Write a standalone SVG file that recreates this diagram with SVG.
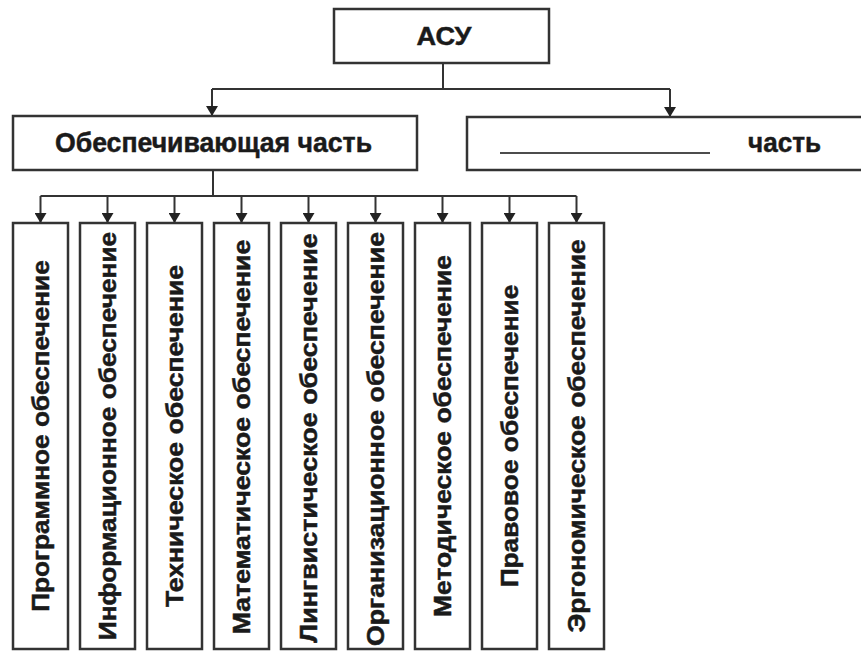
<svg xmlns="http://www.w3.org/2000/svg" width="861" height="651" viewBox="0 0 861 651">
<style>
.box{fill:#fff;stroke:#333;stroke-width:2.5}
.ln{fill:none;stroke:#333;stroke-width:2}
.t{font-family:"Liberation Sans",Arial,sans-serif;font-weight:bold;fill:#1a1a1a;stroke:#1a1a1a;stroke-width:0.5}
.v{font-size:23px;text-anchor:middle}
</style>
<defs>
<marker id="arr" markerUnits="userSpaceOnUse" markerWidth="10" markerHeight="12" viewBox="0 0 12 10" refX="12" refY="5" orient="auto" preserveAspectRatio="none">
<path d="M0,0 L12,5 L0,10 z" fill="#222"/>
</marker>
</defs>
<rect width="861" height="651" fill="#fff"/>
<g id="connectors">
<path class="ln" d="M443,63 V89"/>
<path class="ln" d="M212,89 H670"/>
<path class="ln" d="M212,89 V116" marker-end="url(#arr)"/>
<path class="ln" d="M670,89 V117" marker-end="url(#arr)"/>
<path class="ln" d="M213,170 V196"/>
<path class="ln" d="M40.5,196 H576.5"/>
<path class="ln" d="M40.5,196 V223" marker-end="url(#arr)"/>
<path class="ln" d="M107.5,196 V223" marker-end="url(#arr)"/>
<path class="ln" d="M174.5,196 V223" marker-end="url(#arr)"/>
<path class="ln" d="M241.5,196 V223" marker-end="url(#arr)"/>
<path class="ln" d="M308.5,196 V223" marker-end="url(#arr)"/>
<path class="ln" d="M375.5,196 V223" marker-end="url(#arr)"/>
<path class="ln" d="M442.5,196 V223" marker-end="url(#arr)"/>
<path class="ln" d="M509.5,196 V223" marker-end="url(#arr)"/>
<path class="ln" d="M576.5,196 V223" marker-end="url(#arr)"/>
</g>
<g id="asu">
<rect class="box" x="334" y="9" width="215" height="54"/>
<text class="t" x="444" y="45" font-size="26" text-anchor="middle" textLength="55" lengthAdjust="spacingAndGlyphs">АСУ</text>
</g>
<g id="obesp">
<rect class="box" x="13" y="116" width="404" height="54"/>
<text class="t" x="55" y="152" font-size="28" textLength="317" lengthAdjust="spacingAndGlyphs">Обеспечивающая часть</text>
</g>
<g id="func">
<rect class="box" x="467" y="117" width="410" height="53"/>
<line x1="500" y1="153" x2="710" y2="153" stroke="#111" stroke-width="1.5"/>
<text class="t" x="748" y="152" font-size="28" textLength="73" lengthAdjust="spacingAndGlyphs">часть</text>
</g>
<g id="n1"><rect class="box" x="13" y="223" width="55" height="426"/>
<text class="t v" transform="translate(40.5,436) rotate(-90) scale(1.16,1)" y="8" textLength="303" lengthAdjust="spacingAndGlyphs">Программное обеспечение</text></g>
<g id="n2"><rect class="box" x="80" y="223" width="55" height="426"/>
<text class="t v" transform="translate(107.5,436) rotate(-90) scale(1.16,1)" y="8" textLength="352" lengthAdjust="spacingAndGlyphs">Информационное обеспечение</text></g>
<g id="n3"><rect class="box" x="147" y="223" width="55" height="426"/>
<text class="t v" transform="translate(174.5,436) rotate(-90) scale(1.16,1)" y="8" textLength="295" lengthAdjust="spacingAndGlyphs">Техническое обеспечение</text></g>
<g id="n4"><rect class="box" x="214" y="223" width="55" height="426"/>
<text class="t v" transform="translate(241.5,437) rotate(-90) scale(1.16,1)" y="8" textLength="340" lengthAdjust="spacingAndGlyphs">Математическое обеспечение</text></g>
<g id="n5"><rect class="box" x="281" y="223" width="55" height="426"/>
<text class="t v" transform="translate(308.5,438) rotate(-90) scale(1.16,1)" y="8" textLength="353" lengthAdjust="spacingAndGlyphs">Лингвистическое обеспечение</text></g>
<g id="n6"><rect class="box" x="348" y="223" width="55" height="426"/>
<text class="t v" transform="translate(375.5,439) rotate(-90) scale(1.16,1)" y="8" textLength="357" lengthAdjust="spacingAndGlyphs">Организационное обеспечение</text></g>
<g id="n7"><rect class="box" x="415" y="223" width="55" height="426"/>
<text class="t v" transform="translate(442.5,436) rotate(-90) scale(1.16,1)" y="8" textLength="312" lengthAdjust="spacingAndGlyphs">Методическое обеспечение</text></g>
<g id="n8"><rect class="box" x="482" y="223" width="55" height="426"/>
<text class="t v" transform="translate(509.5,436) rotate(-90) scale(1.16,1)" y="8" textLength="261" lengthAdjust="spacingAndGlyphs">Правовое обеспечение</text></g>
<g id="n9"><rect class="box" x="549" y="223" width="55" height="426"/>
<text class="t v" transform="translate(576.5,436) rotate(-90) scale(1.16,1)" y="8" textLength="339" lengthAdjust="spacingAndGlyphs">Эргономическое обеспечение</text></g>
</svg>
